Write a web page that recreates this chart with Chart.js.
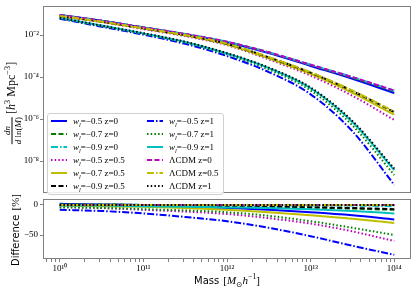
<!DOCTYPE html>
<html>
<head>
<meta charset="utf-8">
<script src="https://cdn.jsdelivr.net/npm/chart.js@4.4.1/dist/chart.umd.min.js"></script>
<style>
html, body { margin: 0; padding: 0; background: #fff; }
#wrap { position: relative; width: 415px; height: 290px; overflow: hidden; font-family: "Liberation Serif", "DejaVu Serif", serif; color: #000; }
canvas { position: absolute; left: 0; }
#topCanvas { top: 0; }
#botCanvas { top: 190px; }
sup, sub { font-size: 70%; line-height: 0; }
.legend { position: absolute; left: 47px; top: 113px; width: 177px; height: 82px; box-sizing: border-box; border: 1px solid #d0d0d0; border-radius: 3px; background: rgba(255,255,255,0.85); }
.leg-item { position: absolute; height: 13px; line-height: 13px; font-size: 9px; white-space: nowrap; }
.leg-item svg { position: absolute; left: 0; top: 3px; }
.leg-item span { position: absolute; left: 22px; top: 0; }
.ytitle { position: absolute; transform: translate(-50%, -50%) rotate(-90deg); white-space: nowrap; }
.frac { display: inline-block; vertical-align: middle; text-align: center; font-size: 9px; line-height: 10px; }
.frac .num { display: block; border-bottom: 1px solid #000; padding: 0 1px; }
.frac .den { display: block; }
.sans { font-family: "DejaVu Sans", sans-serif; }
</style>
</head>
<body>
<div id="wrap">
  <canvas id="topCanvas" width="415" height="200"></canvas>
  <canvas id="botCanvas" width="415" height="100"></canvas>
  <div class="ytitle" style="left:12px; top:103px; font-size:12px;">
    <span class="frac"><span class="num"><i>dn</i></span><span class="den"><i>d</i> ln(<i>M</i>)</span></span>
    [<i>h</i><sup>3</sup> Mpc<sup>−3</sup>]
  </div>
  <div class="ytitle" style="left:14px; top:230px;"><span class="sans" style="font-size:10px;">Difference</span> <span style="font-size:11px;">[%]</span></div>
  <div class="ytitle" style="left:227px; top:279px; transform: translate(-50%, -50%);"><span class="sans" style="font-size:10px;">Mass</span> <span style="font-size:11px;">[<i>M</i><sub>⊙</sub><i>h</i><sup>−1</sup>]</span></div>
  <div class="legend" id="legend"></div>
</div>
<script>
// ==================== DATA ====================
const mass = [1e10, 3.16e10, 1e11, 3.16e11, 1e12, 3.16e12, 1e13, 3.16e13, 1e14];

// upper panel, log10 of dn/dln(M) [h^3 Mpc^-3]
const hmfW05z0   = [-1.04, -1.32, -1.64, -1.96, -2.34, -2.86, -3.47, -4.08, -4.76];
const hmfW07z0   = [-1.05, -1.32, -1.64, -1.95, -2.33, -2.83, -3.43, -4.03, -4.68];
const hmfW09z0   = [-1.05, -1.32, -1.64, -1.95, -2.32, -2.82, -3.41, -4.00, -4.65];
const hmfW05z05  = [-1.10, -1.38, -1.72, -2.05, -2.48, -3.16, -3.93, -4.89, -6.04];
const hmfW07z05  = [-1.09, -1.37, -1.69, -2.02, -2.45, -3.11, -3.85, -4.75, -5.79];
const hmfW09z05  = [-1.09, -1.36, -1.68, -2.00, -2.42, -3.06, -3.79, -4.66, -5.67];
const hmfW05z1   = [-1.22, -1.60, -1.98, -2.42, -3.00, -3.76, -4.82, -6.58, -9.13];
const hmfW07z1   = [-1.20, -1.57, -1.94, -2.36, -2.92, -3.64, -4.64, -6.30, -8.66];
const hmfW09z1   = [-1.18, -1.55, -1.92, -2.33, -2.88, -3.57, -4.53, -6.14, -8.43];
const hmfLcdmZ0  = [-1.05, -1.32, -1.64, -1.95, -2.32, -2.82, -3.41, -4.00, -4.64];
const hmfLcdmZ05 = [-1.09, -1.36, -1.68, -2.00, -2.41, -3.05, -3.77, -4.64, -5.64];
const hmfLcdmZ1  = [-1.18, -1.55, -1.91, -2.32, -2.86, -3.55, -4.50, -6.09, -8.36];

// lower panel, difference to LCDM [%]
const diffW05z0   = [2, 1, 0, -2, -5, -8, -12, -17, -24];
const diffW07z0   = [1, 1, 0, -1, -2, -3, -4, -6, -8];
const diffW09z0   = [0, 0, 0, 0, 0, -1, -1, -1, -2];
const diffW05z05  = [-3, -5, -8, -11, -15, -22, -31, -44, -60];
const diffW07z05  = [-1, -2, -3, -5, -8, -12, -17, -23, -30];
const diffW09z05  = [0, 0, -1, -1, -2, -3, -4, -5, -7];
const diffW05z1   = [-8, -10, -14, -20, -27, -38, -52, -68, -83];
const diffW07z1   = [-4, -5, -7, -9, -12, -18, -27, -38, -50];
const diffW09z1   = [-1, -1, -2, -3, -4, -5, -7, -10, -14];
const diffLcdmZ0  = [0, 0, 0, 0, 0, 0, 0, 0, 0];
const diffLcdmZ05 = [0, 0, 0, 0, 0, 0, 0, 0, 0];
const diffLcdmZ1  = [0, 0, 0, 0, 0, 0, 0, 0, 0];

const topTicks = [1e-8, 1e-6, 1e-4, 1e-2];
const botTicks = [-50, 0];
const xLabelTicks = [1e10, 1e11, 1e12, 1e13, 1e14];

// ==================== STYLE ====================
const SOLID = [], DASHED = [5, 2.5], DOTTED = [1.5, 2.2], DASHDOT = [7, 2, 1.5, 2];
const curves = [
  { w: '−0.5', z: '0',   top: hmfW05z0,   diff: diffW05z0,   color: '#0000ff', dash: SOLID },
  { w: '−0.7', z: '0',   top: hmfW07z0,   diff: diffW07z0,   color: '#008000', dash: DASHED },
  { w: '−0.9', z: '0',   top: hmfW09z0,   diff: diffW09z0,   color: '#00bfbf', dash: DASHDOT },
  { w: '−0.5', z: '0.5', top: hmfW05z05,  diff: diffW05z05,  color: '#bf00bf', dash: DOTTED },
  { w: '−0.7', z: '0.5', top: hmfW07z05,  diff: diffW07z05,  color: '#bfbf00', dash: SOLID },
  { w: '−0.9', z: '0.5', top: hmfW09z05,  diff: diffW09z05,  color: '#000000', dash: DASHED },
  { w: '−0.5', z: '1',   top: hmfW05z1,   diff: diffW05z1,   color: '#0000ff', dash: DASHDOT },
  { w: '−0.7', z: '1',   top: hmfW07z1,   diff: diffW07z1,   color: '#008000', dash: DOTTED },
  { w: '−0.9', z: '1',   top: hmfW09z1,   diff: diffW09z1,   color: '#00bfbf', dash: SOLID },
  { w: null,   z: '0',   top: hmfLcdmZ0,  diff: diffLcdmZ0,  color: '#bf00bf', dash: DASHED },
  { w: null,   z: '0.5', top: hmfLcdmZ05, diff: diffLcdmZ05, color: '#bfbf00', dash: DASHDOT },
  { w: null,   z: '1',   top: hmfLcdmZ1,  diff: diffLcdmZ1,  color: '#000000', dash: DOTTED }
];

const X_MIN = Math.pow(10, 9.8), X_MAX = Math.pow(10, 14.2);
const FRAME = '#808080';
const SUP = { '0': '⁰', '1': '¹', '2': '²', '3': '³', '4': '⁴', '5': '⁵', '6': '⁶', '7': '⁷', '8': '⁸', '9': '⁹', '-': '⁻' };
const pow10Label = v => '10' + String(Math.round(Math.log10(v))).split('').map(ch => SUP[ch]).join('');
const tickFont = { family: 'Liberation Serif', size: 9 };

const framePlugin = {
  id: 'frame',
  afterDatasetsDraw(chart) {
    const a = chart.chartArea, c = chart.ctx;
    c.save();
    c.strokeStyle = FRAME;
    c.lineWidth = 1;
    c.strokeRect(Math.round(a.left) + 0.5, Math.round(a.top) + 0.5, Math.round(a.right - a.left) - 1, Math.round(a.bottom - a.top) - 1);
    c.restore();
  }
};

function makeDatasets(key, conv) {
  return curves.map((c, i) => ({
    label: (c.w ? 'w=' + c.w : 'ΛCDM') + ' z=' + c.z,
    data: mass.map((m, j) => ({ x: m, y: conv(c[key][j]) })),
    borderColor: c.color,
    borderWidth: 2,
    borderDash: c.dash,
    pointRadius: 0,
    fill: false,
    tension: 0,
    cubicInterpolationMode: 'monotone',
    order: curves.length - i
  }));
}

// ==================== TOP PANEL ====================
new Chart(document.getElementById('topCanvas'), {
  type: 'line',
  data: { datasets: makeDatasets('top', v => Math.pow(10, v)) },
  options: {
    responsive: false, animation: false, events: [],
    layout: { padding: { top: 3, right: 4, bottom: 1, left: 0 } },
    plugins: { legend: { display: false }, tooltip: { enabled: false } },
    scales: {
      x: {
        type: 'logarithmic', min: X_MIN, max: X_MAX,
        ticks: { display: false }, grid: { display: false }, border: { display: false },
        afterFit: s => { s.height = 0; }
      },
      y: {
        type: 'logarithmic', min: Math.pow(10, -9.545), max: Math.pow(10, -0.636),
        afterBuildTicks: s => { s.ticks = topTicks.map(v => ({ value: v })); },
        ticks: { callback: v => pow10Label(v), font: tickFont, color: '#000', padding: 1, autoSkip: false },
        grid: { drawOnChartArea: false, tickLength: 3, color: FRAME },
        border: { display: false },
        afterFit: s => { s.width = 43; }
      }
    }
  },
  plugins: [framePlugin]
});

// ==================== BOTTOM PANEL ====================
const xAllTicks = [];
for (let n = 9; n <= 14; n++) for (let k = 1; k <= 9; k++) {
  const v = k * Math.pow(10, n);
  if (v >= X_MIN && v <= X_MAX) xAllTicks.push(v);
}
new Chart(document.getElementById('botCanvas'), {
  type: 'line',
  data: { datasets: makeDatasets('diff', v => v) },
  options: {
    responsive: false, animation: false, events: [],
    layout: { padding: { top: 9, right: 4, bottom: 0, left: 0 } },
    plugins: { legend: { display: false }, tooltip: { enabled: false } },
    scales: {
      x: {
        type: 'logarithmic', min: X_MIN, max: X_MAX,
        afterBuildTicks: s => { s.ticks = xAllTicks.map(v => ({ value: v })); },
        ticks: {
          callback: v => xLabelTicks.some(t => Math.abs(t - v) / t < 1e-6) ? pow10Label(v) : '',
          font: tickFont, color: '#000', padding: 1, autoSkip: false, maxRotation: 0
        },
        grid: { drawOnChartArea: false, tickLength: 3, color: FRAME },
        border: { display: false },
        afterFit: s => { s.height = 31; }
      },
      y: {
        min: -90, max: 10,
        afterBuildTicks: s => { s.ticks = botTicks.map(v => ({ value: v })); },
        ticks: { callback: v => v === 0 ? '0' : String(v).replace('-', '−'), font: tickFont, color: '#000', padding: 2 },
        grid: { drawOnChartArea: false, tickLength: 3, color: FRAME },
        border: { display: false },
        afterFit: s => { s.width = 43; }
      }
    }
  },
  plugins: [framePlugin]
});

// ==================== LEGEND ====================
const legend = document.getElementById('legend');
curves.forEach((c, i) => {
  const col = i < 6 ? 0 : 1, row = i % 6;
  const item = document.createElement('div');
  item.className = 'leg-item';
  item.style.left = (col ? 99 : 3) + 'px';
  item.style.top = (1 + row * 13) + 'px';
  const dash = c.dash.length ? c.dash.join(',') : 'none';
  const text = c.w ? `<i>w</i><sub><i>l</i></sub>=${c.w} z=${c.z}` : `ΛCDM z=${c.z}`;
  item.innerHTML = `<svg width="16" height="6"><line x1="0" y1="3" x2="16" y2="3" stroke="${c.color}" stroke-width="2" stroke-dasharray="${dash}"/></svg><span>${text}</span>`;
  legend.appendChild(item);
});
</script>
</body>
</html>
